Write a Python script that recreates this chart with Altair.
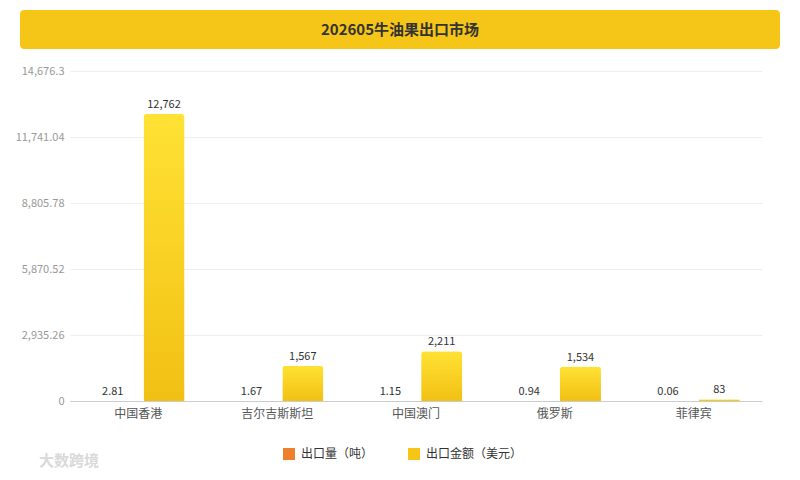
import altair as alt
import pandas as pd

title_text = "202605牛油果出口市场"
countries = ["中国香港", "吉尔吉斯斯坦", "中国澳门", "俄罗斯", "菲律宾"]
series_names = ["出口量（吨）", "出口金额（美元）"]
qty = [2.81, 1.67, 1.15, 0.94, 0.06]
amount = [12762, 1567, 2211, 1534, 83]
y_ticks = [0, 2935.26, 5870.52, 8805.78, 11741.04, 14676.3]

rows = []
for c, q, a in zip(countries, qty, amount):
    rows.append({"country": c, "series": series_names[0], "value": q, "label": f"{q:.2f}"})
    rows.append({"country": c, "series": series_names[1], "value": a, "label": f"{a:,}"})
df = pd.DataFrame(rows)

FONT = "Noto Sans CJK SC"

x_enc = alt.X("country:N", sort=countries,
              scale=alt.Scale(paddingInner=0.335, paddingOuter=0.16),
              axis=alt.Axis(title=None, labelAngle=0, ticks=False, domainColor="#cccccc",
                            labelColor="#555555", labelFontSize=12, labelPadding=7,
                            labelFont=FONT, grid=False))
xoff_enc = alt.XOffset("series:N", sort=series_names,
                       scale=alt.Scale(domain=series_names, paddingInner=0.2, paddingOuter=0))
y_enc = alt.Y("value:Q", scale=alt.Scale(domain=[0, 14676.3], nice=False, zero=True),
              axis=alt.Axis(title=None, values=y_ticks, format=",.2~f", ticks=False, domain=False,
                            labelColor="#999999", labelFontSize=11, labelPadding=6,
                            labelFont=FONT, gridColor="#eeeeee", gridWidth=1))

gradient = {
    "gradient": "linear", "x1": 0, "y1": 0, "x2": 0, "y2": 1,
    "stops": [{"offset": 0, "color": "#FFE234"}, {"offset": 1, "color": "#F2C014"}],
}

bars = alt.Chart(df).mark_bar(cornerRadiusTopLeft=3, cornerRadiusTopRight=3).encode(
    x=x_enc,
    xOffset=xoff_enc,
    y=y_enc,
    fill=alt.condition(
        f"datum.series === '{series_names[1]}'",
        alt.value(gradient),
        alt.Fill("series:N", sort=series_names,
                 scale=alt.Scale(domain=series_names, range=["#EE7F2D", "#F5C518"]),
                 legend=alt.Legend(title=None, orient="none", direction="horizontal",
                                   legendX=213, legendY=377, symbolType="square",
                                   symbolSize=144, symbolStrokeWidth=0, labelFontSize=12,
                                   labelColor="#333333", labelFont=FONT, columnPadding=34,
                                   labelOffset=6, padding=0)),
    ),
)

labels = alt.Chart(df).mark_text(baseline="bottom", dy=-4, fontSize=11, color="#333333",
                                 font=FONT).encode(
    x=alt.X("country:N", sort=countries),
    xOffset=alt.XOffset("series:N", sort=series_names),
    y=alt.Y("value:Q"),
    text=alt.Text("label:N"),
)

tdf = pd.DataFrame({"t": [title_text]})
banner = alt.Chart(tdf).mark_rect(color="#F5C518", cornerRadius=4).encode(
    x=alt.value(-50), x2=alt.value(710), y=alt.value(-61), y2=alt.value(-22)
)
title = alt.Chart(tdf).mark_text(fontSize=15, fontWeight="bold", color="#333333", font=FONT,
                                 align="center", baseline="middle").encode(
    x=alt.value(330), y=alt.value(-41), text="t:N"
)
wdf = pd.DataFrame({"w": ["大数跨境"]})
watermark = alt.Chart(wdf).mark_text(fontSize=15, fontWeight="bold", color="#d9d9d9", font=FONT,
                                     align="left", baseline="middle").encode(
    x=alt.value(-31), y=alt.value(390), text="w:N"
)

chart = alt.layer(banner, title, bars, labels, watermark).properties(
    width=692, height=330,
    autosize=alt.AutoSizeParams(type="none"),
    padding={"left": 62, "top": 63, "right": 30, "bottom": 70},
    background="white",
).configure_view(stroke=None)

chart.save("out.html", embed_options={"renderer": "svg", "actions": False})
